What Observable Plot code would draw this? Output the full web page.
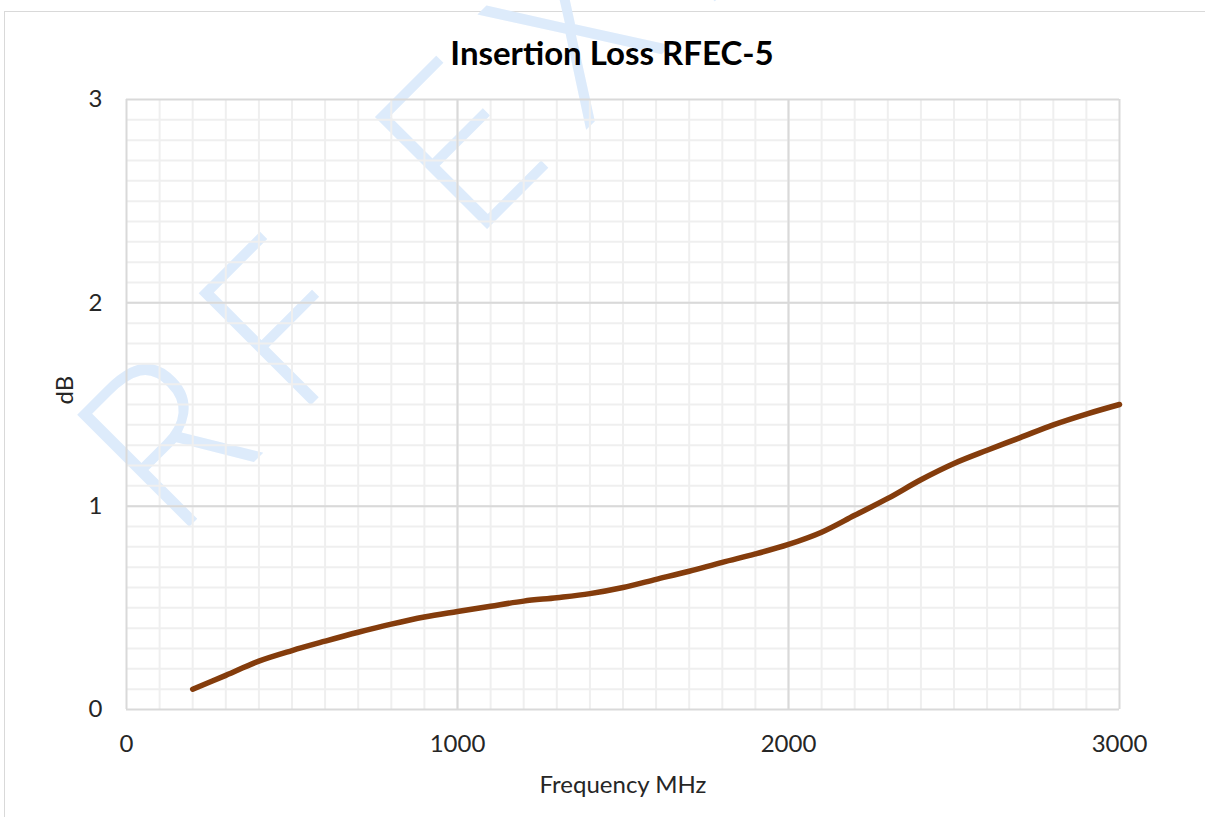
<!DOCTYPE html>
<html>
<head>
<meta charset="utf-8">
<script src="https://cdn.jsdelivr.net/npm/d3@7"></script>
<script src="https://cdn.jsdelivr.net/npm/@observablehq/plot@0.6"></script>
<style>
  html, body { margin: 0; padding: 0; background: #fff; }
  #wrap { position: relative; width: 1205px; height: 817px; overflow: hidden; }
  #border { position: absolute; left: 4px; top: 11px; width: 1400px; height: 1000px;
            border-left: 1.5px solid #d9d9d9; border-top: 1.5px solid #d9d9d9; }
  #chart { position: absolute; left: 0; top: 0; }
</style>
</head>
<body>
<div id="wrap"><div id="border"></div><div id="chart"></div></div>
<script>
const title = "Insertion Loss RFEC-5";
const xLabel = "Frequency MHz";
const yLabel = "dB";
const watermark = "RF EXPERT";

const freq = [200, 300, 400, 500, 600, 700, 800, 900, 1000, 1100, 1200, 1300, 1400, 1500,
              1600, 1700, 1800, 1900, 2000, 2100, 2200, 2300, 2400, 2500, 2600, 2700, 2800, 2900, 3000];
const loss = [0.10, 0.168, 0.238, 0.29, 0.336, 0.38, 0.42, 0.455, 0.482, 0.508, 0.533, 0.55, 0.57, 0.60,
              0.64, 0.68, 0.724, 0.765, 0.812, 0.872, 0.955, 1.038, 1.13, 1.21, 1.275, 1.337, 1.40, 1.453, 1.50];

const xTicks = [0, 1000, 2000, 3000];
const yTicks = [0, 1, 2, 3];
const xMinor = d3.range(100, 3000, 100);
const yMinor = d3.range(1, 30).map(d => d / 10);

const data = freq.map((f, i) => ({f, v: loss[i]}));

const chart = Plot.plot({
  width: 1205,
  height: 817,
  marginLeft: 126,
  marginRight: 86,
  marginTop: 99,
  marginBottom: 108,
  x: {domain: [0, 3000]},
  y: {domain: [0, 3]},
  style: {fontFamily: "Lato, 'Open Sans', sans-serif", background: "transparent", color: "#262626", overflow: "visible"},
  marks: [
    Plot.text([watermark], {frameAnchor: "top-left", text: d => d, rotate: -45, textAnchor: "start",
      lineAnchor: "bottom", fontSize: 222, fontWeight: 300, fill: "#ddebfb", dx: 47, dy: 443,
      fontFamily: "'Open Sans', Lato, sans-serif"}),
    Plot.gridX({ticks: xMinor, stroke: "#efefef", strokeOpacity: 1, strokeWidth: 2}),
    Plot.gridY({ticks: yMinor, stroke: "#efefef", strokeOpacity: 1, strokeWidth: 2}),
    Plot.gridX({ticks: xTicks, stroke: "#d9d9d9", strokeOpacity: 1, strokeWidth: 2}),
    Plot.gridY({ticks: yTicks, stroke: "#d9d9d9", strokeOpacity: 1, strokeWidth: 2}),
    Plot.axisX({ticks: xTicks, tickSize: 0, tickPadding: 25, fontSize: 24, tickFormat: d => String(d), label: null}),
    Plot.axisY({ticks: yTicks, tickSize: 0, tickPadding: 24, fontSize: 24, tickFormat: d => String(d), label: null}),
    Plot.line(data, {x: "f", y: "v", stroke: "#843c0c", strokeWidth: 5.5, curve: "catmull-rom", strokeLinecap: "round"}),
    Plot.text([title], {frameAnchor: "top", text: d => d, dy: -45, dx: -11, fontSize: 33, fontWeight: "bold", fill: "#000", lineAnchor: "middle"}),
    Plot.text([xLabel], {frameAnchor: "bottom", text: d => d, dy: 76, fontSize: 24, fill: "#262626", lineAnchor: "middle"}),
    Plot.text([yLabel], {frameAnchor: "left", text: d => d, dx: -61, rotate: -90, fontSize: 24, fill: "#262626", lineAnchor: "middle"})
  ]
});
d3.select(chart).selectAll("text")
  .filter(function() { return this.textContent === watermark; })
  .attr("letter-spacing", 40)
  .style("letter-spacing", "40px");
document.getElementById("chart").appendChild(chart);
</script>
</body>
</html>
